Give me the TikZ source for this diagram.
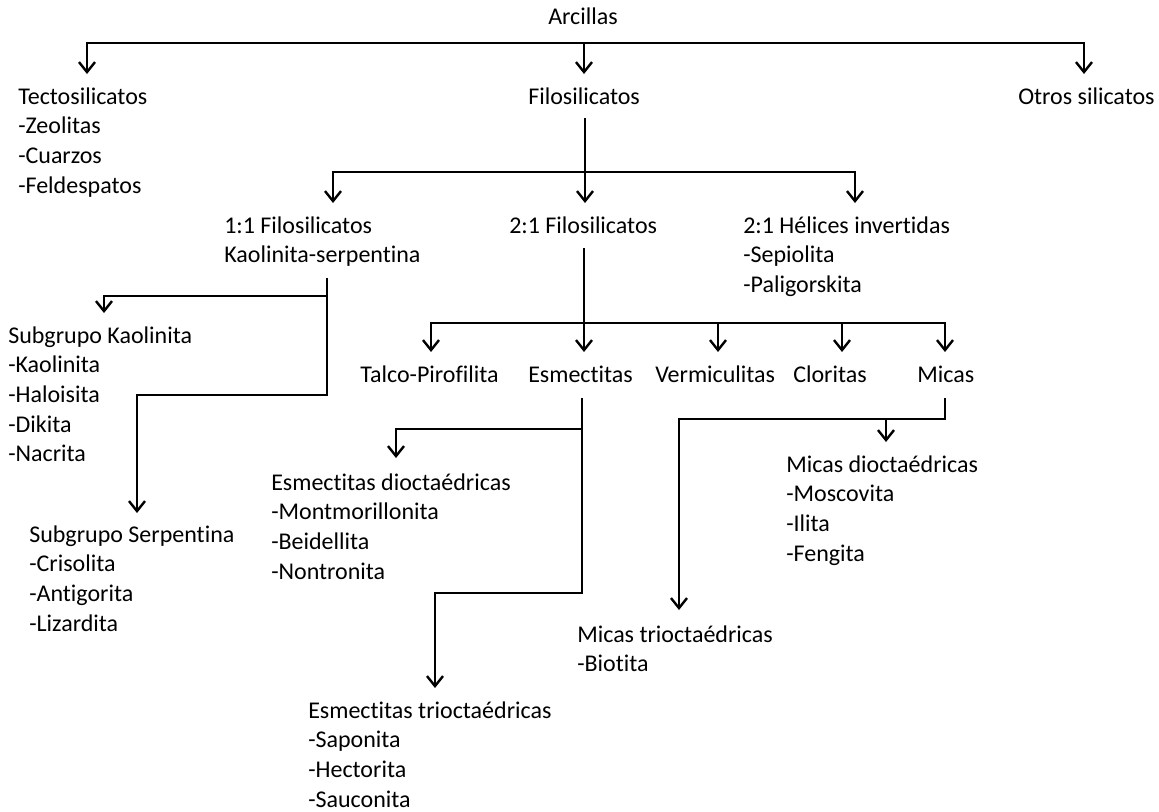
\documentclass[tikz,border=0pt]{standalone}
\usepackage{fontspec}
\setmainfont{Carlito}[Ligatures=NoCommon]
\usetikzlibrary{arrows.meta}
\begin{document}
\begin{tikzpicture}[x=0.75pt, y=-0.75pt,
  txt/.style={anchor=north west, inner sep=0pt, align=left,
    font=\fontsize{18}{22.2}\selectfont, yshift=15.54pt},
  link/.style={line width=1.8pt},
  arr/.style={link, -{Straight Barb[length=7.5pt,width=12pt]}}]
\useasboundingbox[fill=white] (0,0) rectangle (1159,811);

% ---- text nodes
\node[txt] (arc) at (548,24) {\strut Arcillas};
\node[txt] (tecto) at (18,104) {\strut Tectosilicatos\\-Zeolitas\\-Cuarzos\\-Feldespatos};
\node[txt] (filo) at (528,104) {\strut Filosilicatos};
\node[txt] (otros) at (1018,104) {\strut Otros silicatos};
\node[txt] (f11) at (224,233) {\strut 1:1 Filosilicatos\\Kaolinita-serpentina};
\node[txt] (f21) at (509,233) {\strut 2:1 Filosilicatos};
\node[txt] (hel) at (743,233) {\strut 2:1 Hélices invertidas\\-Sepiolita\\-Paligorskita};
\node[txt] (kao) at (8,343) {\strut Subgrupo Kaolinita\\-Kaolinita\\-Haloisita\\-Dikita\\-Nacrita};
\node[txt] (serp) at (29,542) {\strut Subgrupo Serpentina\\-Crisolita\\-Antigorita\\-Lizardita};
\node[txt] (talco) at (360,382) {\strut Talco-Pirofilita};
\node[txt] (esm) at (528,382) {\strut Esmectitas};
\node[txt] (verm) at (655,382) {\strut Vermiculitas};
\node[txt] (clor) at (793,382) {\strut Cloritas};
\node[txt] (mic) at (917,382) {\strut Micas};
\node[txt] (edio) at (271,490) {\strut Esmectitas dioctaédricas\\-Montmorillonita\\-Beidellita\\-Nontronita};
\node[txt] (etri) at (308,718) {\strut Esmectitas trioctaédricas\\-Saponita\\-Hectorita\\-Sauconita};
\node[txt] (mdio) at (786,472) {\strut Micas dioctaédricas\\-Moscovita\\-Ilita\\-Fengita};
\node[txt] (mtri) at (577,642) {\strut Micas trioctaédricas\\-Biotita};

% ---- junction and tip coordinates
\coordinate (t1) at (584,43);
\coordinate (tecto-in) at (87,74);
\coordinate (filo-in) at (584,74);
\coordinate (otros-in) at (1084,74);

\coordinate (f-top) at (585,118);
\coordinate (f-M) at (585,172);
\coordinate (f11-in) at (333,203);
\coordinate (f21-in) at (585,203);
\coordinate (hel-in) at (855,203);

\coordinate (k-top) at (327,278);
\coordinate (k-j1) at (327,296);
\coordinate (k-j2) at (327,395);
\coordinate (kao-in) at (104,313);
\coordinate (serp-in) at (137,513);

\coordinate (s-top) at (584,248);
\coordinate (s-M) at (584,323);
\coordinate (s-V) at (718,323);
\coordinate (s-C) at (842,323);
\coordinate (talco-in) at (431,352);
\coordinate (esm-in) at (584,352);
\coordinate (verm-in) at (718,352);
\coordinate (clor-in) at (842,352);
\coordinate (mic-in) at (945,352);

\coordinate (e-top) at (582,398);
\coordinate (e-j1) at (582,429);
\coordinate (e-j2) at (582,593);
\coordinate (edio-in) at (396,458);
\coordinate (etri-in) at (435,688);

\coordinate (m-top) at (945,398);
\coordinate (m-j) at (945,419);
\coordinate (m-k) at (886,419);
\coordinate (mdio-in) at (886,442);
\coordinate (mtri-in) at (679,610);

% ---- connectors
\draw[arr] (t1) -| (tecto-in);
\draw[arr] (t1) -| (otros-in);
\draw[arr] (t1) -- (filo-in);

\draw[arr] (f-top) -- (f21-in);
\draw[arr] (f-M) -| (f11-in);
\draw[arr] (f-M) -| (hel-in);

\draw[arr] (k-top) -- (k-j2) -| (serp-in);
\draw[arr] (k-j1) -| (kao-in);

\draw[arr] (s-top) -- (esm-in);
\draw[arr] (s-M) -| (talco-in);
\draw[arr] (s-M) -| (mic-in);
\draw[arr] (s-V) -- (verm-in);
\draw[arr] (s-C) -- (clor-in);

\draw[arr] (e-top) -- (e-j2) -| (etri-in);
\draw[arr] (e-j1) -| (edio-in);

\draw[arr] (m-top) -- (m-j) -| (mtri-in);
\draw[arr] (m-k) -- (mdio-in);
\end{tikzpicture}
\end{document}
